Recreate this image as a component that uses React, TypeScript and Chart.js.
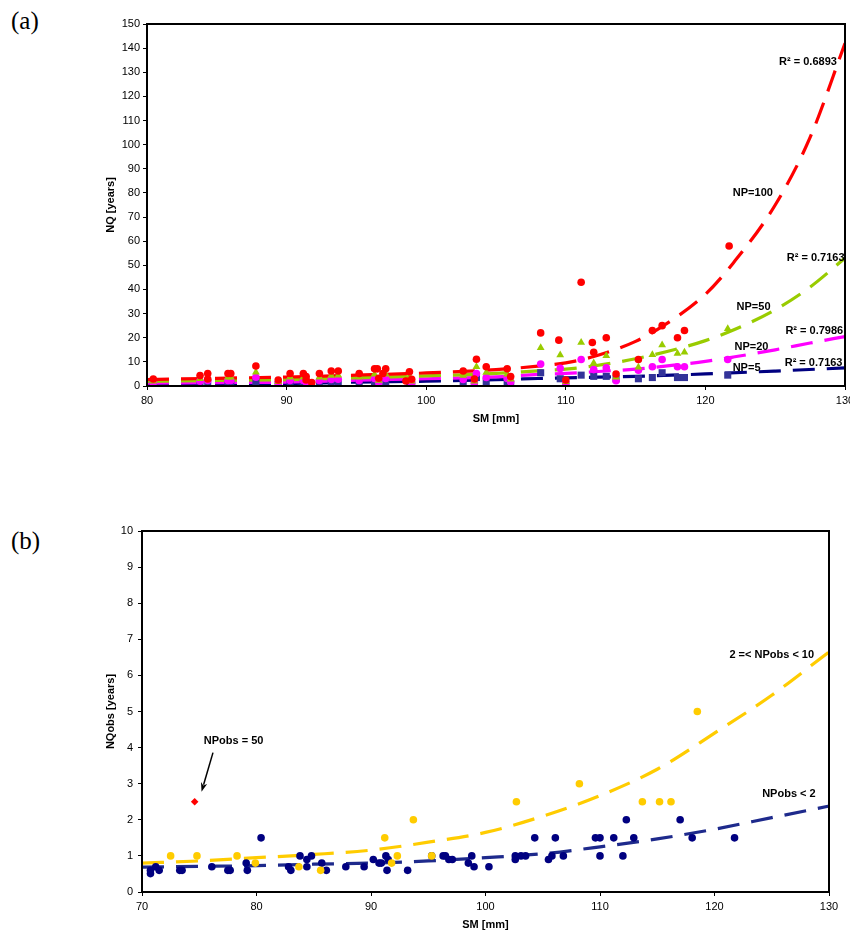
import React, { useEffect, useRef } from "react";
import { Chart, registerables } from "chart.js";
Chart.register(...registerables);

const FONT_FAMILY = "'Liberation Sans', Arial, Helvetica, sans-serif";
Chart.defaults.font.family = FONT_FAMILY;
Chart.defaults.color = "#000";

// ---------------- Panel (a) ----------------
const aXTicks = [80, 90, 100, 110, 120, 130];
const aYTicks = [0, 10, 20, 30, 40, 50, 60, 70, 80, 90, 100, 110, 120, 130, 140, 150];

// NP=100 observations (red circles)
const np100X = [80.45, 83.8, 84.35, 84.35, 85.8, 86.0, 87.8, 89.4, 90.25, 91.2, 91.4, 91.4, 91.8, 92.35, 93.2, 93.7, 95.2, 96.3, 96.5, 96.6, 96.9, 97.1, 98.55, 98.8, 98.96, 102.65, 103.45, 103.6, 104.3, 105.8, 106.05, 108.2, 109.5, 110.0, 111.1, 111.9, 112.0, 112.9, 113.6, 115.2, 116.2, 116.9, 118.0, 118.5, 121.7];
const np100Y = [2.9, 4.3, 5.2, 2.9, 5.2, 5.2, 8.3, 2.5, 5.2, 5.2, 3.9, 2.5, 1.4, 5.2, 6.2, 6.2, 5.2, 7.1, 7.1, 3.2, 5.2, 7.1, 2.1, 5.9, 2.8, 6.2, 2.9, 11.1, 8.0, 7.1, 3.9, 22, 19, 2.5, 43, 18, 14, 20, 5, 11, 23, 25, 20, 23, 58];

// shared SM positions for NP=50, NP=20, NP=5
const aObsX = [80.45, 83.8, 84.35, 85.8, 86.0, 87.8, 89.4, 90.25, 91.2, 91.4, 92.35, 93.2, 93.7, 95.2, 96.3, 96.6, 97.1, 98.8, 98.96, 102.65, 103.45, 103.6, 104.3, 105.8, 106.05, 108.2, 109.6, 110.0, 111.1, 112.0, 112.9, 113.6, 115.2, 116.2, 116.9, 118.0, 118.5, 121.6];
const np50Y = [2.0, 3.0, 3.6, 3.6, 3.6, 5.7, 1.8, 3.6, 3.6, 2.8, 3.6, 4.3, 4.5, 3.6, 4.9, 2.3, 4.9, 4.1, 2.0, 4.3, 2.0, 8.0, 5.6, 4.9, 2.8, 15.9, 12.8, 1.8, 18, 9.5, 12.5, 3.6, 7.8, 13, 17, 13.5, 14, 23.7];
const np20Y = [1.3, 2.0, 2.3, 2.3, 2.3, 3.6, 1.1, 2.3, 2.3, 1.7, 2.3, 2.7, 2.8, 2.3, 3.1, 1.4, 3.1, 2.6, 1.2, 2.7, 1.3, 5.2, 3.5, 3.1, 1.7, 9.1, 7.3, 1.1, 11, 6.8, 7.5, 2.2, 6.5, 8, 11, 8, 8, 11];
const np5Y = [0.8, 1.0, 1.2, 1.2, 1.2, 1.8, 0.6, 1.2, 1.2, 0.9, 1.2, 1.4, 1.5, 1.2, 1.6, 0.8, 1.6, 1.4, 0.7, 1.4, 0.7, 3.5, 1.8, 1.6, 0.9, 5.5, 3.0, 0.6, 4.5, 4.0, 4.0, 3.0, 3.0, 3.5, 5.5, 3.5, 3.5, 4.5];

// trend curves
const fit100X = [80, 85, 90, 95, 100, 105, 108, 110, 112, 115, 117, 120, 122, 125, 127.5, 130];
const fit100Y = [2.7, 3.2, 3.7, 4.5, 5.4, 6.8, 8.2, 9.6, 12.2, 18.5, 25, 38, 51, 75, 103, 142];
const fit50X = [80, 85, 90, 95, 100, 105, 108, 110, 112, 115, 118, 120, 122, 125, 127.5, 130];
const fit50Y = [1.9, 2.3, 2.6, 3.4, 4.2, 5.2, 6.3, 7.0, 8.3, 11.3, 15.4, 18.8, 23.2, 31.6, 41, 53];
const fit20X = [80, 85, 90, 95, 100, 105, 108, 110, 112, 115, 118, 120, 122, 125, 127.5, 130];
const fit20Y = [1.2, 1.4, 1.6, 2.4, 3.0, 3.8, 4.8, 5.2, 5.9, 7.0, 8.8, 10.2, 12.0, 15.0, 17.8, 20.5];
const fit5X = [80, 85, 90, 95, 100, 105, 108, 110, 115, 120, 125, 130];
const fit5Y = [0.6, 0.8, 1.0, 1.6, 2.0, 2.6, 3.1, 3.4, 4.0, 5.0, 6.2, 7.5];

const aLabelText = ["R² = 0.6893", "NP=100", "R² = 0.7163", "NP=50", "R² = 0.7986", "NP=20", "R² = 0.7163", "NP=5"];
const aLabelX = [127.35, 123.4, 127.9, 123.45, 127.8, 123.3, 127.75, 122.95];
const aLabelY = [134.4, 80, 53, 32.9, 22.9, 16.3, 9.5, 7.5];

// ---------------- Panel (b) ----------------
const bXTicks = [70, 80, 90, 100, 110, 120, 130];
const bYTicks = [0, 1, 2, 3, 4, 5, 6, 7, 8, 9, 10];

const obsLowX = [70.74, 70.74, 71.2, 71.5, 73.3, 73.5, 76.1, 77.5, 77.7, 79.1, 79.2, 80.4, 82.8, 83.0, 83.8, 84.4, 84.4, 84.8, 85.7, 86.1, 87.8, 89.4, 90.2, 90.7, 90.9, 91.3, 91.5, 91.4, 93.2, 95.3, 96.3, 96.5, 96.8, 97.1, 98.5, 98.8, 99.0, 100.3, 102.6, 102.6, 103.1, 103.5, 104.3, 105.5, 105.8, 106.1, 106.8, 109.6, 110.0, 110.0, 111.2, 112.0, 112.3, 112.95, 117.0, 118.05, 121.75];
const obsLowY = [0.51, 0.6, 0.7, 0.6, 0.6, 0.6, 0.7, 0.6, 0.6, 0.8, 0.6, 1.5, 0.7, 0.6, 1.0, 0.7, 0.9, 1.0, 0.8, 0.6, 0.7, 0.7, 0.9, 0.8, 0.8, 1.0, 0.9, 0.6, 0.6, 1.0, 1.0, 1.0, 0.9, 0.9, 0.8, 1.0, 0.7, 0.7, 1.0, 0.9, 1.0, 1.0, 1.5, 0.9, 1.0, 1.5, 1.0, 1.5, 1.5, 1.0, 1.5, 1.0, 2.0, 1.5, 2.0, 1.5, 1.5];
const obsMidX = [72.5, 74.8, 78.3, 79.9, 83.7, 85.6, 91.2, 91.8, 92.3, 93.7, 95.3, 102.7, 108.2, 113.7, 115.2, 116.2, 118.5];
const obsMidY = [1.0, 1.0, 1.0, 0.8, 0.7, 0.6, 1.5, 0.8, 1.0, 2.0, 1.0, 2.5, 3.0, 2.5, 2.5, 2.5, 5.0];
const obs50X = [74.6];
const obs50Y = [2.5];

const fitMidX = [70, 75, 80, 85, 90, 95, 100, 105, 110, 115, 120, 125, 130];
const fitMidY = [0.8, 0.86, 0.95, 1.04, 1.16, 1.38, 1.65, 2.1, 2.67, 3.4, 4.4, 5.45, 6.65];
const fitLowX = [70, 75, 80, 85, 90, 95, 100, 105, 110, 115, 120, 125, 130];
const fitLowY = [0.69, 0.71, 0.73, 0.77, 0.8, 0.86, 0.95, 1.06, 1.25, 1.47, 1.74, 2.06, 2.38];

const bLabelText = ["NPobs = 50", "2 =< NPobs < 10", "NPobs < 2"];
const bLabelX = [78.0, 125.0, 126.5];
const bLabelY = [4.19, 6.56, 2.71];
const bArrowFrom = [76.2, 3.86];
const bArrowTo = [75.2, 2.78];

// ---------------- helpers ----------------
const pts = (xs: number[], ys: number[]) => xs.map((x, i) => ({ x, y: ys[i] }));

const scatterSet = (data: any[], style: string, radius: number, color: string) => ({
  data,
  pointStyle: style,
  pointRadius: radius,
  pointHoverRadius: radius,
  pointBackgroundColor: color,
  pointBorderColor: color,
  pointBorderWidth: 0,
  showLine: false,
});

const fitSet = (data: any[], color: string) => ({
  data,
  showLine: true,
  borderColor: color,
  borderWidth: 3.2,
  borderDash: [22, 12],
  borderCapStyle: "butt",
  pointRadius: 0,
  pointHoverRadius: 0,
  cubicInterpolationMode: "monotone",
  fill: false,
});

const annotPlugin = {
  id: "annot",
  afterDatasetsDraw(chart: any, _args: any, opts: any) {
    const { ctx, chartArea } = chart;
    const xs = chart.scales.x;
    const ys = chart.scales.y;
    ctx.save();
    ctx.fillStyle = "#000";
    ctx.font = `bold 11px ${FONT_FAMILY}`;
    ctx.textAlign = "center";
    ctx.textBaseline = "middle";
    const t: string[] = opts.texts || [];
    t.forEach((s, i) => {
      ctx.fillText(s, xs.getPixelForValue(opts.xs[i]), ys.getPixelForValue(opts.ys[i]));
    });
    if (opts.arrow) {
      const [fx, fy] = opts.arrow.from;
      const [tx, ty] = opts.arrow.to;
      const x1 = xs.getPixelForValue(fx), y1 = ys.getPixelForValue(fy);
      const x2 = xs.getPixelForValue(tx), y2 = ys.getPixelForValue(ty);
      const ang = Math.atan2(y2 - y1, x2 - x1);
      const hl = 9, hw = 3.2;
      ctx.strokeStyle = "#000";
      ctx.lineWidth = 1.5;
      ctx.beginPath();
      ctx.moveTo(x1, y1);
      ctx.lineTo(x2 - Math.cos(ang) * hl * 0.8, y2 - Math.sin(ang) * hl * 0.8);
      ctx.stroke();
      ctx.beginPath();
      ctx.moveTo(x2, y2);
      ctx.lineTo(x2 - Math.cos(ang) * hl - Math.sin(ang) * hw, y2 - Math.sin(ang) * hl + Math.cos(ang) * hw);
      ctx.lineTo(x2 - Math.cos(ang) * hl * 0.7, y2 - Math.sin(ang) * hl * 0.7);
      ctx.lineTo(x2 - Math.cos(ang) * hl + Math.sin(ang) * hw, y2 - Math.sin(ang) * hl - Math.cos(ang) * hw);
      ctx.closePath();
      ctx.fill();
    }
    ctx.strokeStyle = "#000";
    ctx.lineWidth = 2;
    ctx.strokeRect(chartArea.left, chartArea.top, chartArea.right - chartArea.left, chartArea.bottom - chartArea.top);
    ctx.restore();
  },
};

const makeScales = (o: any) => ({
  x: {
    type: "linear",
    min: o.xTicks[0],
    max: o.xTicks[o.xTicks.length - 1],
    afterBuildTicks: (s: any) => { s.ticks = o.xTicks.map((v: number) => ({ value: v })); },
    afterFit: (s: any) => { s.height = o.xHeight; s.paddingLeft = 0; s.paddingRight = 0; },
    ticks: { font: { size: 11 }, color: "#000", padding: 4, autoSkip: false, maxRotation: 0 },
    grid: { drawOnChartArea: false, drawTicks: true, tickLength: 4, color: "#000", lineWidth: 1 },
    border: { display: true, color: "#000", width: 2 },
    title: { display: true, text: "SM [mm]", color: "#000", font: { size: 11, weight: "bold" }, padding: { top: 0, bottom: o.xTitlePad } },
  },
  y: {
    type: "linear",
    min: o.yTicks[0],
    max: o.yTicks[o.yTicks.length - 1],
    afterBuildTicks: (s: any) => { s.ticks = o.yTicks.map((v: number) => ({ value: v })); },
    afterFit: (s: any) => { s.width = o.yWidth; s.paddingTop = 0; s.paddingBottom = 0; },
    ticks: { font: { size: 11 }, color: "#000", padding: o.yTickPad, autoSkip: false },
    grid: { drawOnChartArea: false, drawTicks: true, tickLength: 4, color: "#000", lineWidth: 1 },
    border: { display: true, color: "#000", width: 2 },
    title: { display: true, text: o.yTitle, color: "#000", font: { size: 11, weight: "bold" }, padding: { top: 104, bottom: 0 } },
  },
});

export default function App() {
  const refA = useRef<HTMLCanvasElement>(null);
  const refB = useRef<HTMLCanvasElement>(null);

  useEffect(() => {
    const chartA = new Chart(refA.current as HTMLCanvasElement, {
      type: "scatter",
      data: {
        datasets: [
          scatterSet(pts(np100X, np100Y), "circle", 3.8, "#FF0000"),
          scatterSet(pts(aObsX, np50Y), "triangle", 4.5, "#99CC00"),
          scatterSet(pts(aObsX, np20Y), "circle", 3.8, "#FF00FF"),
          scatterSet(pts(aObsX, np5Y), "rect", 5, "#333399"),
          fitSet(pts(fit100X, fit100Y), "#FF0000"),
          fitSet(pts(fit50X, fit50Y), "#99CC00"),
          fitSet(pts(fit20X, fit20Y), "#FF00FF"),
          fitSet(pts(fit5X, fit5Y), "#000080"),
        ] as any,
      },
      options: {
        animation: false,
        responsive: false,
        devicePixelRatio: 1,
        layout: { padding: { left: 0, top: 24, right: 5, bottom: 0 } },
        plugins: {
          legend: { display: false },
          tooltip: { enabled: false },
          annot: { texts: aLabelText, xs: aLabelX, ys: aLabelY },
        } as any,
        scales: makeScales({ xTicks: aXTicks, yTicks: aYTicks, xHeight: 54, xTitlePad: 14, yWidth: 147, yTickPad: 3, yTitle: "NQ [years]" }) as any,
      },
      plugins: [annotPlugin],
    });

    const chartB = new Chart(refB.current as HTMLCanvasElement, {
      type: "scatter",
      data: {
        datasets: [
          scatterSet(pts(obs50X, obs50Y), "rectRot", 3.8, "#FF0000"),
          scatterSet(pts(obsMidX, obsMidY), "circle", 3.8, "#FFCC00"),
          scatterSet(pts(obsLowX, obsLowY), "circle", 3.8, "#000080"),
          fitSet(pts(fitMidX, fitMidY), "#FFCC00"),
          fitSet(pts(fitLowX, fitLowY), "#1E2A8C"),
        ] as any,
      },
      options: {
        animation: false,
        responsive: false,
        devicePixelRatio: 1,
        layout: { padding: { left: 0, top: 91, right: 21, bottom: 0 } },
        plugins: {
          legend: { display: false },
          tooltip: { enabled: false },
          annot: { texts: bLabelText, xs: bLabelX, ys: bLabelY, arrow: { from: bArrowFrom, to: bArrowTo } },
        } as any,
        scales: makeScales({ xTicks: bXTicks, yTicks: bYTicks, xHeight: 41, xTitlePad: 1, yWidth: 142, yTickPad: 5, yTitle: "NQobs [years]" }) as any,
      },
      plugins: [annotPlugin],
    });

    return () => {
      chartA.destroy();
      chartB.destroy();
    };
  }, []);

  const panelLabel: React.CSSProperties = {
    position: "absolute",
    left: 11,
    fontFamily: "'Liberation Serif', 'Times New Roman', serif",
    fontSize: 25,
    lineHeight: "25px",
    color: "#000",
  };

  return (
    <div style={{ position: "absolute", left: 0, top: 0, width: 850, height: 933, background: "#fff", overflow: "hidden" }}>
      <div style={{ ...panelLabel, top: 8 }}>(a)</div>
      <div style={{ ...panelLabel, top: 528 }}>(b)</div>
      <canvas ref={refA} width={850} height={440} style={{ position: "absolute", left: 0, top: 0, width: 850, height: 440 }} />
      <canvas ref={refB} width={850} height={493} style={{ position: "absolute", left: 0, top: 440, width: 850, height: 493 }} />
    </div>
  );
}
